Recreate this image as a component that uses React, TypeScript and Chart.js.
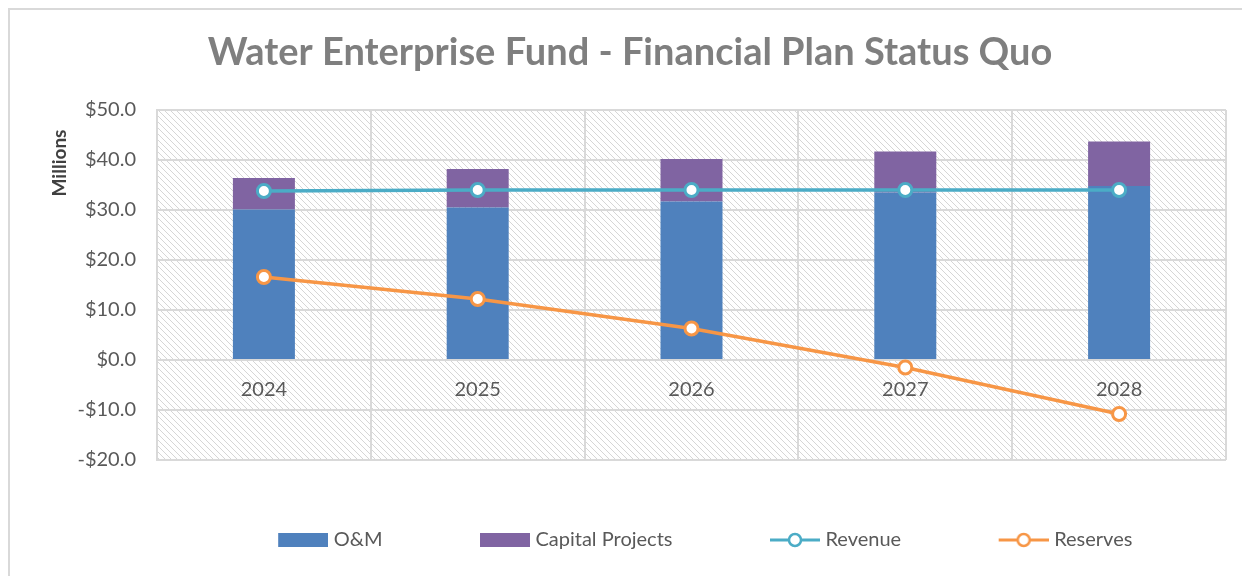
import React, { useEffect, useRef } from "react";
import { Chart, registerables } from "chart.js";

Chart.register(...registerables);

const years = ["2024", "2025", "2026", "2027", "2028"];
const omValues = [30.1, 30.5, 31.7, 33.5, 34.8];
const capitalValues = [6.3, 7.7, 8.5, 8.2, 8.9];
const revenueValues = [33.8, 34.0, 34.0, 34.0, 34.0];
const reservesValues = [16.6, 12.2, 6.3, -1.5, -10.8];
const yMin = -20;
const yMax = 50;
const yStep = 10;

const COLORS = {
  om: "#4F81BD",
  capital: "#8064A2",
  revenue: "#4BACC6",
  reserves: "#F79646",
  grid: "#d9d9d9",
  text: "#595959",
  title: "#7f7f7f",
};

const FONT = "Lato, 'Open Sans', sans-serif";

function makeBoxSwatch(color: string): HTMLCanvasElement {
  const c = document.createElement("canvas");
  c.width = 82;
  c.height = 16;
  const ctx = c.getContext("2d")!;
  ctx.fillStyle = color;
  ctx.fillRect(32, 1, 50, 14);
  return c;
}

function makeLineSwatch(color: string): HTMLCanvasElement {
  const c = document.createElement("canvas");
  c.width = 82;
  c.height = 18;
  const ctx = c.getContext("2d")!;
  ctx.strokeStyle = color;
  ctx.lineWidth = 3;
  ctx.beginPath();
  ctx.moveTo(32, 9);
  ctx.lineTo(82, 9);
  ctx.stroke();
  ctx.beginPath();
  ctx.arc(57, 9, 6, 0, Math.PI * 2);
  ctx.fillStyle = "#ffffff";
  ctx.fill();
  ctx.lineWidth = 2.5;
  ctx.stroke();
  return c;
}

const hatchPlugin = {
  id: "hatchBackground",
  beforeDraw(chart: any) {
    const { ctx, chartArea } = chart;
    const p = document.createElement("canvas");
    p.width = 6;
    p.height = 6;
    const pc = p.getContext("2d")!;
    pc.fillStyle = "#ffffff";
    pc.fillRect(0, 0, 6, 6);
    pc.strokeStyle = "#d6d6d6";
    pc.lineWidth = 1;
    pc.beginPath();
    pc.moveTo(-1, -1);
    pc.lineTo(7, 7);
    pc.moveTo(-1, 5);
    pc.lineTo(1, 7);
    pc.moveTo(5, -1);
    pc.lineTo(7, 1);
    pc.stroke();
    const pattern = ctx.createPattern(p, "repeat");
    ctx.save();
    ctx.fillStyle = pattern;
    ctx.fillRect(chartArea.left, chartArea.top, chartArea.right - chartArea.left, chartArea.bottom - chartArea.top);
    ctx.restore();
  },
};

const axisTitlePlugin = {
  id: "millionsTitle",
  afterDraw(chart: any) {
    const { ctx } = chart;
    ctx.save();
    ctx.translate(50, 153);
    ctx.rotate(-Math.PI / 2);
    ctx.font = `bold 19px ${FONT}`;
    ctx.fillStyle = "#404040";
    ctx.textAlign = "center";
    ctx.textBaseline = "middle";
    ctx.fillText("Millions", 0, 0);
    ctx.restore();
  },
};

export default function App() {
  const canvasRef = useRef<HTMLCanvasElement | null>(null);

  useEffect(() => {
    if (!canvasRef.current) return;
    const swatches = [
      makeBoxSwatch(COLORS.om),
      makeBoxSwatch(COLORS.capital),
      makeLineSwatch(COLORS.revenue),
      makeLineSwatch(COLORS.reserves),
    ];
    const chart = new Chart(canvasRef.current, {
      type: "bar",
      data: {
        labels: years,
        datasets: [
          {
            type: "bar",
            label: "O&M",
            data: omValues,
            backgroundColor: COLORS.om,
            stack: "costs",
            order: 2,
            barPercentage: 0.29,
            categoryPercentage: 1,
          },
          {
            type: "bar",
            label: "Capital Projects",
            data: capitalValues,
            backgroundColor: COLORS.capital,
            stack: "costs",
            order: 2,
            barPercentage: 0.29,
            categoryPercentage: 1,
          },
          {
            type: "line",
            label: "Revenue",
            data: revenueValues,
            borderColor: COLORS.revenue,
            backgroundColor: "#ffffff",
            borderWidth: 3.5,
            pointRadius: 6.5,
            pointBorderWidth: 3,
            pointBackgroundColor: "#ffffff",
            pointBorderColor: COLORS.revenue,
            order: 1,
          },
          {
            type: "line",
            label: "Reserves",
            data: reservesValues,
            borderColor: COLORS.reserves,
            backgroundColor: "#ffffff",
            borderWidth: 3.5,
            pointRadius: 6.5,
            pointBorderWidth: 3,
            pointBackgroundColor: "#ffffff",
            pointBorderColor: COLORS.reserves,
            order: 1,
          },
        ],
      } as any,
      options: {
        animation: false,
        responsive: false,
        devicePixelRatio: 1,
        layout: { padding: { left: 24, right: 24, top: 0, bottom: 16 } },
        scales: {
          x: {
            position: { y: 0 } as any,
            grid: { color: COLORS.grid, lineWidth: 2, drawTicks: false, offset: true },
            border: { display: true, color: COLORS.grid, width: 2 },
            ticks: { color: COLORS.text, font: { family: FONT, size: 20 }, padding: 18 },
          },
          y: {
            min: yMin,
            max: yMax,
            afterFit(scale: any) {
              scale.width = 123;
            },
            grid: { color: COLORS.grid, lineWidth: 2, drawTicks: false },
            border: { display: true, color: COLORS.grid, width: 2 },
            ticks: {
              stepSize: yStep,
              color: COLORS.text,
              font: { family: FONT, size: 20 },
              padding: 21,
              callback: (v: any) => (v < 0 ? "-$" + Math.abs(v).toFixed(1) : "$" + Number(v).toFixed(1)),
            },
          },
        },
        plugins: {
          title: {
            display: true,
            text: "Water Enterprise Fund - Financial Plan Status Quo",
            color: COLORS.title,
            font: { family: FONT, size: 38, weight: "bold" },
            padding: { top: 20.2, bottom: 34.2 },
          },
          legend: {
            position: "bottom",
            fullSize: false,
            labels: {
              usePointStyle: true,
              pointStyleWidth: 73,
              boxHeight: 19,
              padding: 70,
              color: COLORS.text,
              font: { family: FONT, size: 20 },
              generateLabels(ch: any) {
                const items = Chart.defaults.plugins.legend.labels.generateLabels(ch);
                return items
                  .slice()
                  .sort((a: any, b: any) => a.datasetIndex - b.datasetIndex)
                  .map((it: any) => ({ ...it, pointStyle: swatches[it.datasetIndex], rotation: 0 }));
              },
            },
          },
          tooltip: { enabled: false },
        },
      } as any,
      plugins: [hatchPlugin, axisTitlePlugin],
    });
    return () => chart.destroy();
  }, []);

  return (
    <div style={{ width: 1242, height: 568, overflow: "hidden", position: "relative" }}>
      <div
        style={{
          position: "absolute",
          left: 0,
          top: 0,
          width: 1320,
          height: 700,
          border: "2px solid #d9d9d9",
          boxSizing: "border-box",
          background: "#ffffff",
        }}
      >
        <canvas ref={canvasRef} width={1240} height={566} style={{ display: "block", width: 1240, height: 566 }} />
      </div>
    </div>
  );
}
